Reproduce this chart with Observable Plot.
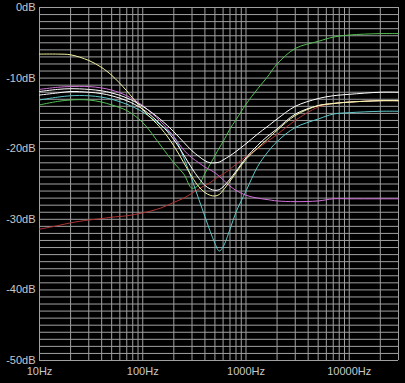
<!DOCTYPE html>
<html><head><meta charset="utf-8">
<script src="https://cdn.jsdelivr.net/npm/d3@7"></script>
<script src="https://cdn.jsdelivr.net/npm/@observablehq/plot@0.6"></script>
<style>html,body{margin:0;padding:0;background:#000;overflow:hidden}</style>
</head><body><div id="chart"></div>
<script>
const freqs   = [10, 15, 20, 30, 40, 50, 70, 100, 150, 200, 250, 300, 350, 400, 450, 500, 550, 600, 700, 800, 1000, 1300, 1600, 2000, 3000, 5000, 7000, 10000, 20000, 30000];
const yellow  = [-6.6, -6.6, -6.7, -7.5, -8.5, -9.6, -11.8, -14.5, -17.1, -19.6, -22.0, -24.0, -25.4, -26.2, -26.6, -26.7, -26.5, -25.9, -24.6, -23.4, -21.5, -19.9, -18.7, -17.4, -15.3, -13.9, -13.6, -13.4, -13.2, -13.2];
const whiteA  = [-11.9, -11.6, -11.5, -11.6, -11.8, -12.1, -12.8, -14.0, -15.9, -17.6, -19.1, -20.3, -21.1, -21.7, -22.0, -22.0, -21.9, -21.6, -21.0, -20.4, -19.3, -17.9, -16.9, -15.8, -14.0, -12.9, -12.5, -12.3, -12.0, -12.0];
const whiteB  = [-12.4, -12.1, -11.9, -12.0, -12.2, -12.5, -13.2, -14.4, -16.6, -18.7, -20.9, -22.8, -24.2, -25.2, -25.7, -25.9, -25.8, -25.4, -24.3, -23.2, -21.3, -19.5, -18.3, -17.2, -15.1, -13.9, -13.6, -13.4, -13.2, -13.2];
const magenta = [-11.6, -11.3, -11.2, -11.2, -11.4, -11.7, -12.5, -13.9, -16.2, -18.3, -20.2, -21.3, -22.0, -22.6, -23.0, -23.4, -23.9, -24.4, -25.3, -25.9, -26.6, -27.0, -27.2, -27.4, -27.5, -27.4, -27.1, -27.1, -27.1, -27.1];
const cyan    = [-13.1, -12.7, -12.5, -12.5, -12.7, -13.0, -13.7, -14.8, -16.7, -18.3, -21.3, -24.4, -27.2, -29.6, -31.7, -33.4, -34.5, -33.9, -31.4, -29.0, -26.0, -22.5, -20.6, -19.0, -17.0, -15.8, -15.1, -14.9, -14.7, -14.7];
const green   = [-13.8, -13.3, -13.1, -13.1, -13.4, -13.8, -14.6, -16.3, -19.6, -22.0, -23.6, -25.6, -25.1, -23.5, -22.2, -21.0, -19.9, -19.0, -17.2, -15.9, -13.7, -11.5, -9.9, -8.0, -5.8, -4.8, -4.2, -3.9, -3.7, -3.7];
const red     = [-31.4, -30.9, -30.5, -30.1, -29.9, -29.7, -29.5, -29.1, -28.4, -27.6, -27.0, -26.3, -25.7, -25.2, -24.8, -24.3, -23.9, -23.6, -22.9, -22.2, -21.1, -20.0, -19.0, -18.0, -16.0, -14.1, -13.6, -13.4, -13.2, -13.2];

const seriesNames  = ["red", "green", "cyan", "magenta", "whiteB", "yellow", "whiteA"];
const seriesValues = [red, green, cyan, magenta, whiteB, yellow, whiteA];
const seriesColors = ["#b03434", "#52c052", "#5ec8c8", "#d070d8", "#ffffff", "#f4f4a0", "#ffffff"];

const xTickValues = [10, 100, 1000, 10000];
const yTickValues = [0, -10, -20, -30, -40, -50];

const data = seriesNames.flatMap((name, s) => freqs.map((f, i) => ({series: name, f, db: seriesValues[s][i]})));
const xGrid = [10, 100, 1000].flatMap(d => d3.range(1, 10).map(k => k * d)).concat([10000, 20000, 30000]);
const yGrid = d3.range(-50, 1, 1);

const chart = Plot.plot({
  width: 405, height: 383,
  marginLeft: 39, marginRight: 7, marginTop: 7, marginBottom: 23,
  style: {background: "#000", color: "#c8c8c8", fontFamily: "'Liberation Sans', Arial, sans-serif", fontSize: "11px"},
  x: {type: "log", domain: [10, 30000], label: null},
  y: {domain: [-50, 0], label: null},
  color: {domain: seriesNames, range: seriesColors},
  marks: [
    Plot.ruleX(xGrid, {stroke: "#a0a0a0", strokeWidth: 1}),
    Plot.ruleY(yGrid, {stroke: "#a0a0a0", strokeWidth: 1}),
    Plot.line(data, {x: "f", y: "db", z: "series", stroke: "series", strokeWidth: 1, curve: "catmull-rom"}),
    Plot.axisX(xTickValues, {tickFormat: d => d + "Hz", tickSize: 0, tickPadding: 7, fill: "#c8c8c8", label: null}),
    Plot.axisY(yTickValues, {tickFormat: d => d + "dB", tickSize: 0, tickPadding: 4, fill: "#c8c8c8", label: null})
  ]
});
document.getElementById("chart").appendChild(chart);
</script>
</body></html>
